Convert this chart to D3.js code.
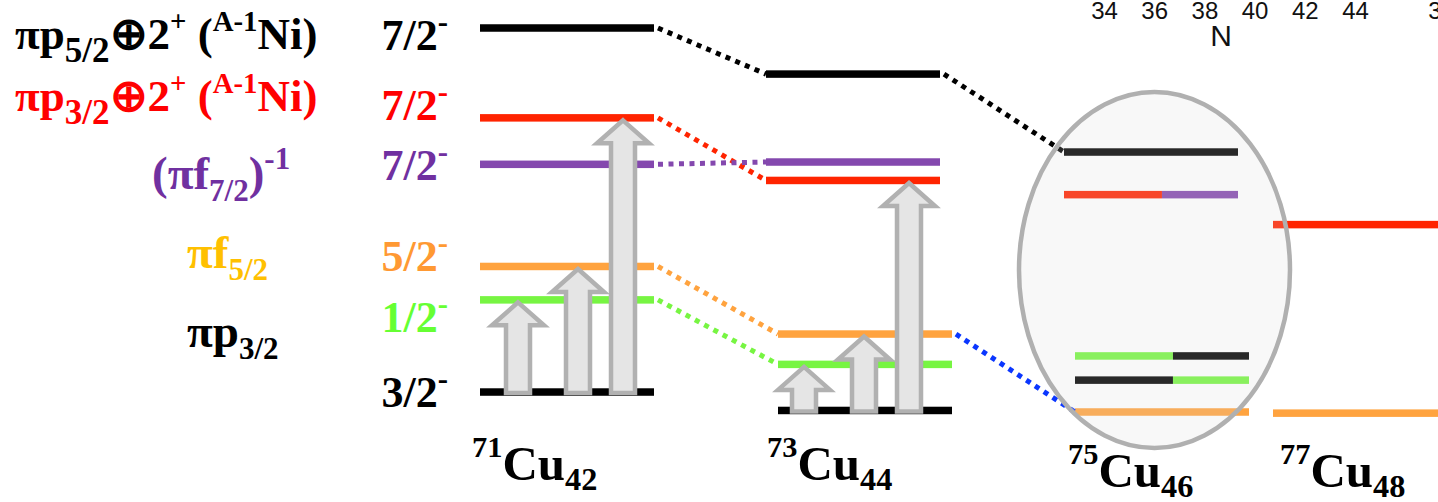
<!DOCTYPE html>
<html>
<head>
<meta charset="utf-8">
<script src="https://cdn.jsdelivr.net/npm/d3@7"></script>
<style>
  html, body { margin: 0; padding: 0; background: #fff; }
  svg { display: block; }
  text { white-space: pre; }
</style>
</head>
<body>
<svg id="chart" width="1438" height="502"></svg>
<script>
// Copper isotopes, left to right
const isotopes = ["71Cu", "73Cu", "75Cu", "77Cu"];
const massNumbers = [71, 73, 75, 77];
const neutronNumbers = [42, 44, 46, 48];

// Proton configurations, from the ground state of 71Cu upwards
const configs = ["p32", "p12", "f52", "f72h", "p32x2", "p52x2"];
const spins = ["3/2", "1/2", "5/2", "7/2", "7/2", "7/2"];

// Level energies (arbitrary units), same order as configs
const levels71 = [5.2, 29.2, 37.9, 64.5, 76.6, 100];
const levels73 = [0.4, 12.4, 20.3, 65.1, 60.3, 88.0];
// 75Cu / 77Cu: [energy, configuration on left half, configuration on right half]
const levels75 = [[0, "f52", "f52"], [8.3, "p32", "p12"], [14.6, "p12", "p32"],
                  [56.6, "p32x2", "f72h"], [67.7, "p52x2", "p52x2"]];
const levels77 = [[-0.3, "f52", "f52"], [48.8, "p32x2", "p32x2"]];

// Excitations out of the ground state, drawn as arrows
const excitations71 = ["p12", "f52", "p32x2"];
const excitations73 = ["p12", "f52", "p32x2"];

// Configurations followed from one isotope to the next
const links = [
  ["71Cu", "73Cu", "p52x2"], ["71Cu", "73Cu", "p32x2"], ["71Cu", "73Cu", "f72h"],
  ["71Cu", "73Cu", "f52"], ["71Cu", "73Cu", "p12"],
  ["73Cu", "75Cu", "p52x2"], ["73Cu", "75Cu", "f52"]
];

// Neutron-number axis of the neighbouring panel
const nTicks = [34, 36, 38, 40, 42, 44];

// ---------------------------------------------------------------------------
const svg = d3.select("#chart");
const serif = "'Liberation Serif', 'Times New Roman', Times, serif";
const sans = "'Liberation Sans', Helvetica, Arial, sans-serif";

const levelColor = d3.scaleOrdinal()
  .domain(configs)
  .range(["#000000", "#77f542", "#ffa33f", "#8448ae", "#ff2400", "#000000"]);

const y = d3.scaleLinear().domain([0, 100]).range([412, 28]);
const colX = d3.scaleOrdinal().domain(isotopes).range([480, 766, 1064, 1273]);
const lowerShift = d3.scaleOrdinal().domain(isotopes).range([0, 12, 11, 0]);
const levelW = 174, levelH = 7.5, splitAt = 0.563;

function levelsOf(iso) {
  if (iso === "71Cu") return configs.map((c, i) => ({ e: levels71[i], left: c, right: c }));
  if (iso === "73Cu") return configs.map((c, i) => ({ e: levels73[i], left: c, right: c }));
  const src = iso === "75Cu" ? levels75 : levels77;
  return src.map(d => ({ e: d[0], left: d[1], right: d[2] }));
}
const x0 = (iso, e) => colX(iso) + (e < 30 ? lowerShift(iso) : 0);

// text with sub/superscripts
function richText(parent, x, yy, parts, opt) {
  const size = opt.size;
  const t = parent.append("text")
    .attr("x", x).attr("y", yy)
    .attr("font-family", opt.family || serif)
    .attr("font-weight", "bold")
    .attr("font-size", size)
    .attr("fill", opt.color || "#000")
    .attr("text-anchor", opt.anchor || "start");
  let shift = 0;
  parts.forEach(([str, kind]) => {
    const k = kind ? opt[kind] : { scale: 1, shift: 0 };
    const s = k.shift * size;
    t.append("tspan")
      .attr("dy", s - shift)
      .attr("font-size", size * k.scale)
      .text(str);
    shift = s;
  });
  return t;
}

// ---- level lines ----
const gLevels = svg.append("g");
isotopes.forEach(iso => {
  levelsOf(iso).forEach(lv => {
    const xs = x0(iso, lv.e);
    const split = lv.left === lv.right ? levelW : levelW * splitAt;
    gLevels.append("rect")
      .attr("x", xs).attr("y", y(lv.e) - levelH / 2)
      .attr("width", split).attr("height", levelH)
      .attr("fill", levelColor(lv.left));
    if (split < levelW) {
      gLevels.append("rect")
        .attr("x", xs + split).attr("y", y(lv.e) - levelH / 2)
        .attr("width", levelW - split).attr("height", levelH)
        .attr("fill", levelColor(lv.right));
    }
  });
});

// ---- dotted connectors ----
const gLinks = svg.append("g");
links.forEach(([from, to, cfg]) => {
  const a = levelsOf(from).find(l => l.left === cfg || l.right === cfg);
  const b = levelsOf(to).find(l => l.left === cfg || l.right === cfg);
  const color = (to === "75Cu" && cfg === "f52") ? "#0a36ff" : levelColor(cfg);
  gLinks.append("line")
    .attr("x1", x0(from, a.e) + levelW + 4).attr("y1", y(a.e))
    .attr("x2", x0(to, b.e)).attr("y2", y(b.e))
    .attr("stroke", color)
    .attr("stroke-width", 5)
    .attr("stroke-dasharray", "5 5.5");
});

// ---- excitation arrows ----
const gArrows = svg.append("g");
const arrowOffsets = [38, 98, 143];
function drawArrows(iso, exc) {
  const ground = levelsOf(iso)[0].e;
  exc.forEach((cfg, i) => {
    const lv = levelsOf(iso).find(l => l.left === cfg);
    const cx = colX(iso) + arrowOffsets[i];
    const tip = y(lv.e) + 2.5, base = y(ground) + 1;
    const hw = 12, hh = 26, hl = 23;
    const p = d3.path();
    p.moveTo(cx, tip);
    p.lineTo(cx + hh, tip + hl);
    p.lineTo(cx + hw, tip + hl);
    p.lineTo(cx + hw, base);
    p.lineTo(cx - hw, base);
    p.lineTo(cx - hw, tip + hl);
    p.lineTo(cx - hh, tip + hl);
    p.closePath();
    gArrows.append("path")
      .attr("d", p.toString())
      .attr("fill", "#e5e5e5")
      .attr("stroke", "#b1b1b1")
      .attr("stroke-width", 4.5)
      .attr("stroke-linejoin", "miter");
  });
}
drawArrows("71Cu", excitations71);
drawArrows("73Cu", excitations73);

// ---- highlight round 75Cu ----
svg.append("ellipse")
  .attr("cx", colX("75Cu") + 90.5).attr("cy", 270)
  .attr("rx", 135.5).attr("ry", 178)
  .attr("fill", "rgba(219,219,219,0.19)")
  .attr("stroke", "#b0b0b0")
  .attr("stroke-width", 4.5);

// ---- configuration labels ----
const gLab = svg.append("g");
const topOpt = { size: 45, sub: { scale: 0.78, shift: 0.28 }, sup: { scale: 0.64, shift: -0.4 } };
const lowOpt = { size: 47, sub: { scale: 0.66, shift: 0.26 }, sup: { scale: 0.66, shift: -0.42 } };
const configLabels = [
  { x: 15, y: 49, color: "#000000", o: topOpt,
    parts: [["πp"], ["5/2", "sub"], ["⊕2"], ["+", "sup"], [" ("], ["A-1", "sup"], ["Ni)"]] },
  { x: 15, y: 111, color: "#ff0000", o: topOpt,
    parts: [["πp"], ["3/2", "sub"], ["⊕2"], ["+", "sup"], [" ("], ["A-1", "sup"], ["Ni)"]] },
  { x: 152, y: 189, color: "#7030a0", o: lowOpt,
    parts: [["(πf"], ["7/2", "sub"], [")"], ["-1", "sup"]] },
  { x: 187, y: 268, color: "#ffc000", o: lowOpt,
    parts: [["πf"], ["5/2", "sub"]] },
  { x: 187, y: 347, color: "#000000", o: lowOpt,
    parts: [["πp"], ["3/2", "sub"]] }
];
configLabels.forEach(d => richText(gLab, d.x, d.y, d.parts, Object.assign({ color: d.color }, d.o)));

// ---- spin/parity labels ----
const spinColor = d3.scaleOrdinal().domain(configs)
  .range(["#000000", "#66ff33", "#ff9933", "#7030a0", "#ff0000", "#000000"]);
const spinY = [407, 332, 271, 180, 120, 50];
const spinOpt = { size: 44, sup: { scale: 0.7, shift: -0.42 } };
configs.forEach((c, i) => {
  richText(gLab, 448, spinY[i], [[spins[i]], ["-", "sup"]],
    Object.assign({ color: spinColor(c), anchor: "end" }, spinOpt));
});

// ---- isotope labels ----
const isoLabelX = [472, 767, 1068, 1280];
const isoLabelY = [480, 480, 487, 487];
const isoOpt = { size: 49, sub: { scale: 0.66, shift: 0.2 }, sup: { scale: 0.62, shift: -0.47 } };
isotopes.forEach((iso, i) => {
  richText(gLab, isoLabelX[i], isoLabelY[i],
    [[String(massNumbers[i]), "sup"], ["Cu"], [String(neutronNumbers[i]), "sub"]], isoOpt);
});

// ---- neutron-number axis (neighbouring panel) ----
const xN = d3.scaleLinear().domain([34, 44]).range([1104, 1355]);
const xN2 = d3.scaleLinear().domain([34, 44]).range([1441, 1692]);
[xN, xN2].forEach(sc => {
  const ax = svg.append("g").attr("transform", "translate(0,19)")
    .call(d3.axisTop(sc).tickValues(nTicks).tickSize(0).tickPadding(0));
  ax.select(".domain").remove();
  ax.selectAll("text")
    .attr("font-family", sans).attr("font-size", 24).attr("fill", "#111");
});
svg.append("text")
  .attr("x", 1221).attr("y", 46)
  .attr("text-anchor", "middle")
  .attr("font-family", sans).attr("font-size", 30).attr("fill", "#111")
  .text("N");
</script>
</body>
</html>
